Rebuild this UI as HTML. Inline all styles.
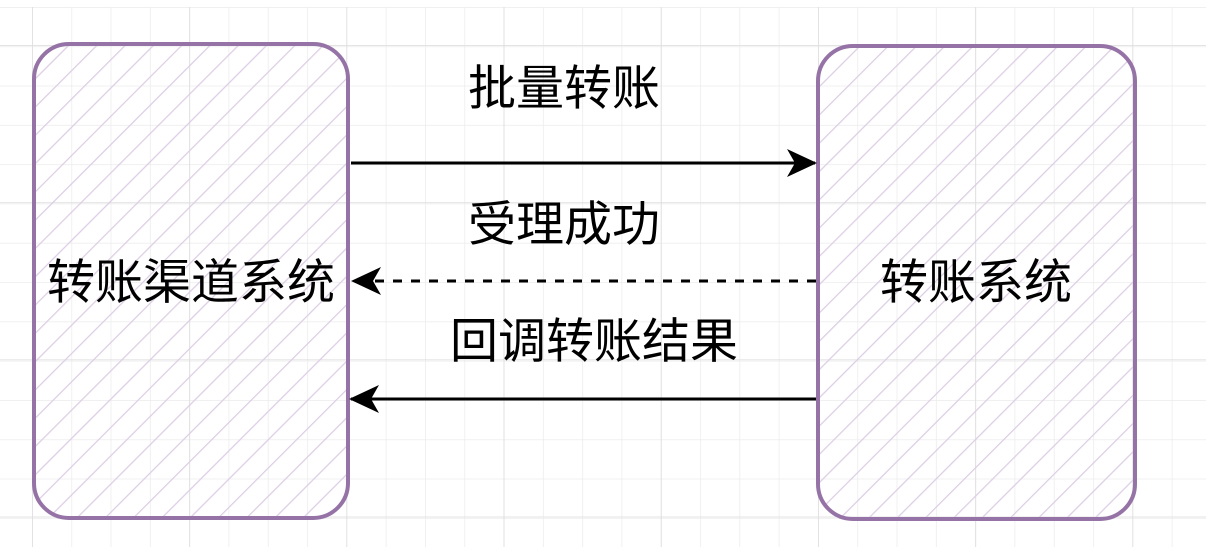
<!DOCTYPE html>
<html><head><meta charset="utf-8"><style>
body{margin:0;background:#fff}
svg text{font-family:"Liberation Sans","Noto Sans CJK SC",sans-serif;font-size:48px;fill:#000;text-anchor:middle;dominant-baseline:central}
</style></head><body>
<svg width="1206" height="554" viewBox="0 0 1206 554" xmlns="http://www.w3.org/2000/svg">
<defs>
<pattern id="g" x="32" y="7" width="39.3" height="39.3" patternUnits="userSpaceOnUse">
<path d="M0 0V39.3M0 0H39.3" stroke="#ececec" stroke-width="1.5" fill="none"/>
</pattern>
<pattern id="G" x="32" y="45" width="157.2" height="157.2" patternUnits="userSpaceOnUse">
<path d="M0 0V157.2M0 0H157.2" stroke="#dcdcdc" stroke-width="1.5" fill="none"/>
</pattern>
<pattern id="h" width="20" height="20" patternUnits="userSpaceOnUse" patternTransform="rotate(45)">
<path d="M0 0V20" stroke="#dccde4" stroke-width="2.5"/>
</pattern>
<marker id="a" viewBox="0 0 30 28" refX="28" refY="14" markerWidth="30" markerHeight="28" markerUnits="userSpaceOnUse" orient="auto">
<path d="M0 0L30 14L0 28L8 14Z" fill="#000"/>
</marker>
</defs>
<rect x="0" y="7" width="1206" height="540" fill="url(#g)"/>
<rect x="0" y="7" width="1206" height="540" fill="url(#G)"/>
<rect x="34" y="44" width="314" height="474" rx="35" fill="url(#h)" stroke="#9673a6" stroke-width="4"/>
<rect x="818" y="46" width="317" height="473" rx="35" fill="url(#h)" stroke="#9673a6" stroke-width="4"/>
<line x1="351" y1="163" x2="815" y2="163" stroke="#000" stroke-width="3" marker-end="url(#a)"/>
<line x1="816" y1="281" x2="353" y2="281" stroke="#000" stroke-width="3" stroke-dasharray="9 9" marker-end="url(#a)"/>
<line x1="816" y1="399" x2="351" y2="399" stroke="#000" stroke-width="3" marker-end="url(#a)"/>
<text x="564" y="89">批量转账</text>
<text x="564" y="225">受理成功</text>
<text x="594" y="342">回调转账结果</text>
<text x="191" y="283">转账渠道系统</text>
<text x="976" y="283">转账系统</text>
</svg>
</body></html>
